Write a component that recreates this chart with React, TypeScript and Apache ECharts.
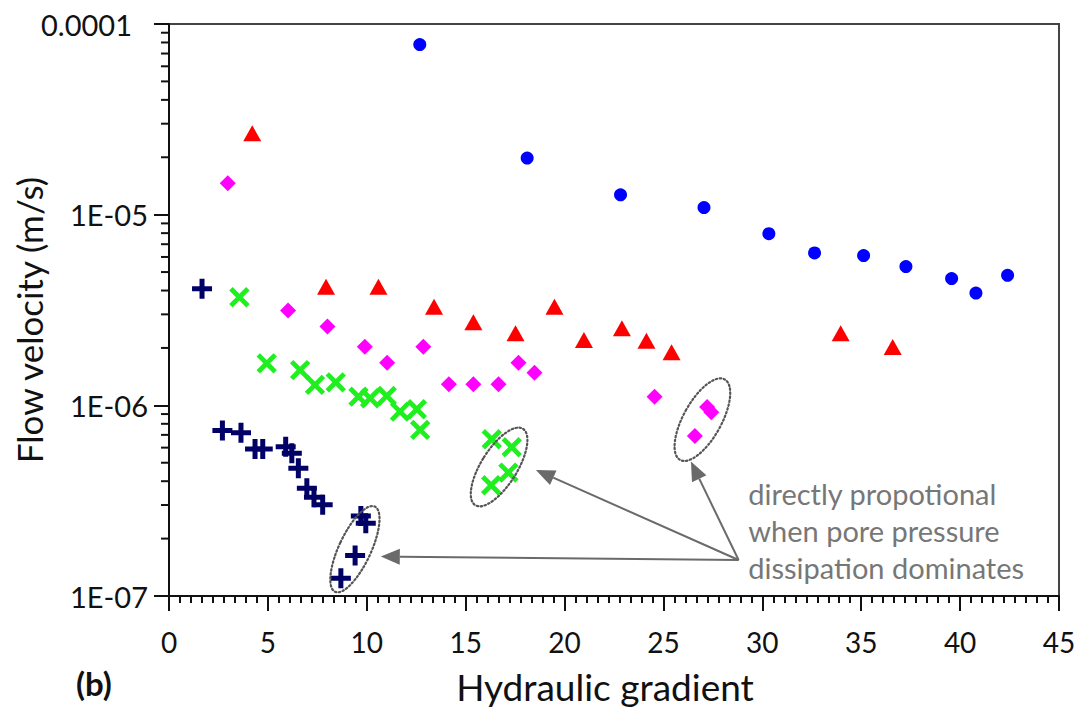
import React, { useEffect, useRef } from "react";
import * as echarts from "echarts";

// ---- Data ----
const blueX = [12.68, 18.11, 22.83, 27.05, 30.33, 32.64, 35.12, 37.26, 39.57, 40.8, 42.4];
const blueY = [7.8e-5, 1.98e-5, 1.27e-5, 1.09e-5, 7.95e-6, 6.3e-6, 6.1e-6, 5.34e-6, 4.62e-6, 3.88e-6, 4.81e-6];

const redX = [4.21, 7.94, 10.59, 13.4, 15.39, 17.52, 19.49, 20.98, 22.9, 24.14, 25.41, 33.96, 36.59];
const redY = [2.67e-5, 4.19e-6, 4.19e-6, 3.29e-6, 2.73e-6, 2.39e-6, 3.29e-6, 2.2e-6, 2.54e-6, 2.18e-6, 1.9e-6, 2.39e-6, 2.02e-6];

const magentaX = [2.97, 6.02, 8.01, 9.9, 11.03, 12.86, 14.15, 15.39, 16.66, 17.67, 18.48, 24.55, 27.21, 27.42, 26.59];
const magentaY = [1.46e-5, 3.14e-6, 2.59e-6, 2.03e-6, 1.67e-6, 2.03e-6, 1.29e-6, 1.29e-6, 1.29e-6, 1.67e-6, 1.48e-6, 1.11e-6, 9.8e-7, 9.2e-7, 6.9e-7];

const greenX = [3.56, 4.94, 6.63, 7.38, 8.43, 9.58, 10.17, 11.01, 11.68, 12.53, 12.7, 16.32, 17.33, 17.16, 16.29];
const greenY = [3.69e-6, 1.66e-6, 1.53e-6, 1.28e-6, 1.32e-6, 1.11e-6, 1.09e-6, 1.12e-6, 9.27e-7, 9.54e-7, 7.43e-7, 6.64e-7, 6.03e-7, 4.44e-7, 3.81e-7];

const navyX = [1.67, 2.7, 3.64, 4.35, 4.74, 5.9, 6.21, 6.54, 6.97, 7.33, 7.77, 9.7, 9.95, 9.41, 8.69];
const navyY = [4.09e-6, 7.37e-7, 7.19e-7, 5.91e-7, 5.91e-7, 6.07e-7, 5.61e-7, 4.68e-7, 3.67e-7, 3.3e-7, 3.01e-7, 2.63e-7, 2.41e-7, 1.63e-7, 1.24e-7];

const xTicks = [0, 5, 10, 15, 20, 25, 30, 35, 40, 45];
const yDecades = [-7, -6, -5, -4];
const minorMultipliers = [2, 3, 4, 5, 6, 7, 8, 9];

const xAxisTitle = "Hydraulic gradient";
const yAxisTitle = "Flow velocity (m/s)";
const panelLabel = "(b)";

// annotation anchors (data coordinates)
const arrowStart = [28.8, 1.545e-7];
const arrowTips = [
  [10.71, 1.61e-7],
  [18.55, 4.58e-7],
  [26.39, 5.07e-7],
];
const ellipseCenters = [
  [9.4, 1.76e-7],
  [16.69, 4.75e-7],
  [26.97, 8.41e-7],
];
const ellipseShapes = [
  { a: 47, b: 16, deg: 25 },
  { a: 45, b: 18, deg: 32 },
  { a: 46, b: 19, deg: 29 },
];
const noteAnchor = [29.29, 4.3e-7];
const noteText = "directly propotional\nwhen pore pressure\ndissipation dominates";

const FONT = "Lato, 'Open Sans', sans-serif";

const PLUS = "path://M7.5,0H12.5V7.5H20V12.5H12.5V20H7.5V12.5H0V7.5H7.5Z";
const PLUS_THIN = "path://M8,0H12V8H20V12H12V20H8V12H0V8H8Z";

function pairs(xs: number[], ys: number[]) {
  return xs.map((x, i) => [x, ys[i]]);
}

export default function App() {
  const ref = useRef<HTMLDivElement>(null);

  useEffect(() => {
    if (!ref.current) return;
    const chart = echarts.init(ref.current, null, { renderer: "svg" });

    const minorData: number[][] = [];
    yDecades.slice(0, 3).forEach((e) => {
      minorMultipliers.forEach((m) => minorData.push([0, m * Math.pow(10, e)]));
    });

    const option: any = {
      animation: false,
      backgroundColor: "#fff",
      grid: {
        left: 169,
        right: 20,
        top: 24,
        bottom: 115,
        containLabel: false,
        outerBoundsMode: "none",
        show: true,
        borderColor: "#444",
        borderWidth: 2,
        backgroundColor: "transparent",
      },
      xAxis: {
        type: "value",
        min: xTicks[0],
        max: xTicks[xTicks.length - 1],
        interval: 5,
        name: xAxisTitle,
        nameLocation: "middle",
        nameGap: 72,
        nameTextStyle: { fontFamily: FONT, fontSize: 37, color: "#111", padding: [0, 18, 0, 0] },
        axisLine: { show: true, lineStyle: { color: "#111", width: 2 } },
        axisTick: { show: true, length: 15, lineStyle: { color: "#111", width: 2 } },
        minorTick: { show: true, splitNumber: 9, length: 7, lineStyle: { color: "#111", width: 2 } },
        splitLine: { show: false },
        minorSplitLine: { show: false },
        axisLabel: { fontFamily: FONT, fontSize: 28, color: "#111", margin: 32 },
      },
      yAxis: {
        type: "log",
        logBase: 10,
        min: Math.pow(10, yDecades[0]),
        max: Math.pow(10, yDecades[yDecades.length - 1]),
        splitNumber: 3,
        axisLine: { show: true, lineStyle: { color: "#111", width: 2 } },
        axisTick: { show: true, length: 15, lineStyle: { color: "#111", width: 2 } },
        splitLine: { show: false },
        axisLabel: {
          fontFamily: FONT,
          fontSize: 29,
          color: "#111",
          margin: 21,
          formatter: (v: number) => {
            const e = Math.round(Math.log10(v));
            if (e === -4) return "{top|0.0001}";
            return "1E-0" + -e;
          },
          rich: {
            top: { fontFamily: FONT, fontSize: 29, color: "#111", padding: [0, 16, 0, 0] },
          },
        },
      },
      series: [
        {
          type: "custom",
          silent: true,
          clip: false,
          z: 1,
          data: minorData,
          renderItem: (params: any, api: any) => {
            const p = api.coord([api.value(0), api.value(1)]);
            return {
              type: "line",
              shape: { x1: p[0] - 8, y1: p[1], x2: p[0], y2: p[1] },
              style: { stroke: "#111", lineWidth: 2 },
            };
          },
        },
        {
          type: "scatter",
          name: "blue",
          data: pairs(blueX, blueY),
          symbol: "circle",
          symbolSize: 13,
          itemStyle: { color: "#0000ff", opacity: 1 },
        },
        {
          type: "scatter",
          name: "red",
          data: pairs(redX, redY),
          symbol: "triangle",
          symbolSize: [18, 16],
          itemStyle: { color: "#ff0000", opacity: 1 },
        },
        {
          type: "scatter",
          name: "magenta",
          data: pairs(magentaX, magentaY),
          symbol: "diamond",
          symbolSize: [16, 16],
          itemStyle: { color: "#ff00ff", opacity: 1 },
        },
        {
          type: "scatter",
          name: "green",
          data: pairs(greenX, greenY),
          symbol: PLUS_THIN,
          symbolSize: 24,
          symbolRotate: 45,
          itemStyle: { color: "#1fef1f", opacity: 1 },
        },
        {
          type: "scatter",
          name: "navy",
          data: pairs(navyX, navyY),
          symbol: PLUS,
          symbolSize: 20,
          itemStyle: { color: "#000066", opacity: 1 },
        },
      ],
    };

    chart.setOption(option);

    const toPx = (p: number[]) => chart.convertToPixel({ gridIndex: 0 }, p) as number[];
    const graphics: any[] = [];
    const gray = "#6a6a6a";

    ellipseCenters.forEach((c, i) => {
      const p = toPx(c);
      const s = ellipseShapes[i];
      graphics.push({
        type: "ellipse",
        x: p[0],
        y: p[1],
        rotation: (-s.deg * Math.PI) / 180,
        shape: { cx: 0, cy: 0, rx: s.b, ry: s.a },
        style: { fill: "none", stroke: "#555", lineWidth: 2.2, lineDash: [1.5, 2.5], lineCap: "round" },
        z: 100,
        silent: true,
      });
    });

    const s0 = toPx(arrowStart);
    arrowTips.forEach((t) => {
      const tip = toPx(t);
      const dx = tip[0] - s0[0];
      const dy = tip[1] - s0[1];
      const len = Math.sqrt(dx * dx + dy * dy);
      const ux = dx / len;
      const uy = dy / len;
      const headLen = 19;
      const headW = 8;
      const bx = tip[0] - ux * headLen;
      const by = tip[1] - uy * headLen;
      graphics.push({
        type: "line",
        shape: { x1: s0[0], y1: s0[1], x2: bx, y2: by },
        style: { stroke: gray, lineWidth: 2 },
        z: 100,
        silent: true,
      });
      graphics.push({
        type: "polygon",
        shape: {
          points: [
            [tip[0], tip[1]],
            [bx - uy * headW, by + ux * headW],
            [bx + uy * headW, by - ux * headW],
          ],
        },
        style: { fill: gray },
        z: 100,
        silent: true,
      });
    });

    const n = toPx(noteAnchor);
    graphics.push({
      type: "text",
      x: n[0],
      y: n[1],
      style: {
        text: noteText,
        fill: "#777",
        font: "29px " + FONT,
        lineHeight: 37,
        verticalAlign: "top",
      },
      z: 100,
      silent: true,
    });

    // y axis title (rotated)
    graphics.push({
      type: "text",
      x: 29,
      y: 320,
      rotation: Math.PI / 2,
      style: {
        text: yAxisTitle,
        fill: "#111",
        font: "35px " + FONT,
        align: "center",
        verticalAlign: "middle",
      },
      silent: true,
    });

    graphics.push({
      type: "text",
      left: 76,
      top: 666,
      style: { text: panelLabel, fill: "#111", font: "bold 33px " + FONT },
      silent: true,
    });

    chart.setOption({ graphic: graphics });

    return () => chart.dispose();
  }, []);

  return (
    <div
      ref={ref}
      style={{ position: "fixed", left: 0, top: 0, width: 1079, height: 711, background: "#fff" }}
    />
  );
}
